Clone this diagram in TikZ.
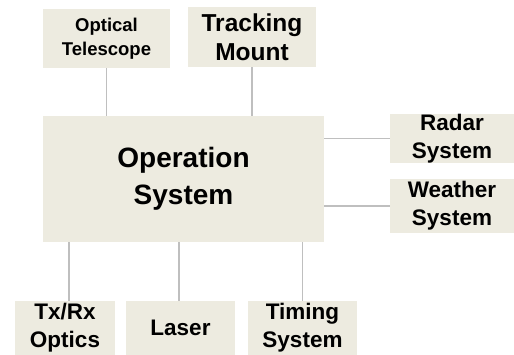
\documentclass[tikz,border=0pt]{standalone}
\usepackage{fontspec}
\setmainfont{Liberation Sans}
\definecolor{boxfill}{HTML}{EDEBE0}
\definecolor{linkgray}{HTML}{BFBFBF}
\begin{document}
\begin{tikzpicture}[x=1pt,y=-1pt,
  box/.style={fill=boxfill, draw=none, align=center, inner sep=0pt, font=\bfseries},
  link/.style={draw=linkgray, line width=1.5pt}]
\useasboundingbox (0,0) rectangle (514,355);
% top
\node[box, minimum width=127pt, minimum height=59pt, font=\bfseries\fontsize{18.5}{24}\selectfont] (ot) at (106.5,38.5) {Optical\\Telescope};
\node[box, minimum width=128pt, minimum height=60pt, font=\bfseries\fontsize{24.5}{29}\selectfont] (tm) at (252,37) {Tracking\\Mount};
% centre
\node[box, minimum width=281pt, minimum height=126pt, font=\bfseries\fontsize{28}{37}\selectfont] (op) at (183.5,179) {Operation\\System};
% right
\node[box, minimum width=124pt, minimum height=49pt, font=\bfseries\fontsize{22.5}{28}\selectfont] (rad) at (452,138.5) {Radar\\System};
\node[box, minimum width=124pt, minimum height=54pt, font=\bfseries\fontsize{22.5}{28}\selectfont] (wea) at (452,206) {Weather\\System};
% bottom
\node[box, minimum width=100pt, minimum height=54pt, font=\bfseries\fontsize{22.5}{28}\selectfont] (tx) at (65,328) {Tx/Rx\\Optics};
\node[box, minimum width=109pt, minimum height=54pt, font=\bfseries\fontsize{22.5}{28}\selectfont] (las) at (180.5,328) {Laser};
\node[box, minimum width=109pt, minimum height=54pt, font=\bfseries\fontsize{22.5}{28}\selectfont] (tim) at (302.5,328) {Timing\\System};
% connectors
\draw[link] (ot.south) -- (ot.south |- op.north);
\draw[link] (tm.south) -- (tm.south |- op.north);
\draw[link] (rad.west) -- (rad.west -| op.east);
\draw[link] (wea.west) -- (wea.west -| op.east);
\draw[link] ([xshift=4pt]tx.north) -- ([xshift=4pt]tx.north |- op.south);
\draw[link] ([xshift=-1.5pt]las.north) -- ([xshift=-1.5pt]las.north |- op.south);
\draw[link] (tim.north) -- (tim.north |- op.south);
\end{tikzpicture}
\end{document}
